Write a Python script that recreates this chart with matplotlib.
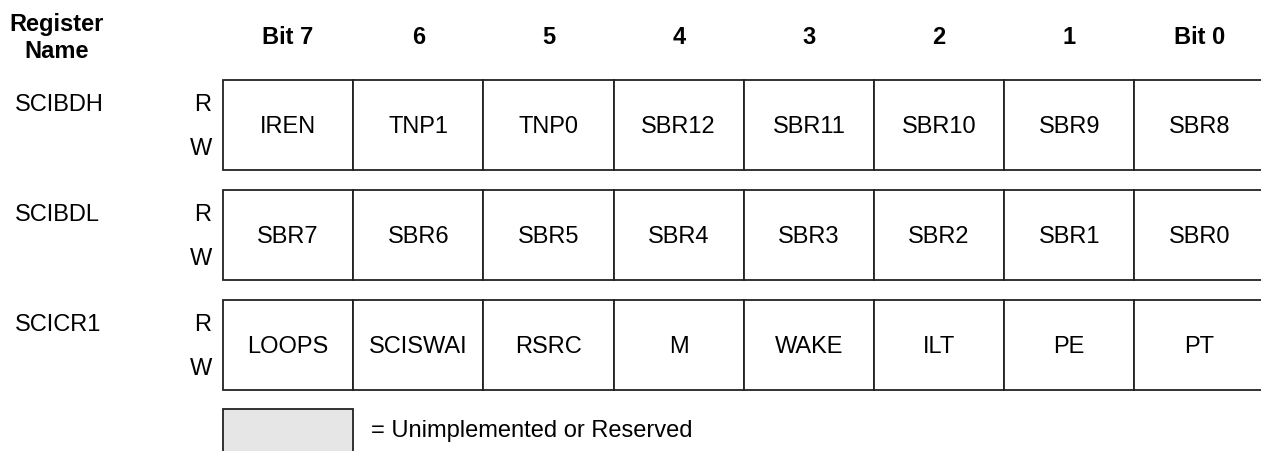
import matplotlib
matplotlib.use("Agg")
import matplotlib.pyplot as plt
from matplotlib.patches import Rectangle

plt.rcParams['font.family'] = ['Liberation Sans', 'DejaVu Sans']

registers = ["SCIBDH", "SCIBDL", "SCICR1"]
bit_headers = ["Bit 7", "6", "5", "4", "3", "2", "1", "Bit 0"]
bits = [
    ["IREN", "TNP1", "TNP0", "SBR12", "SBR11", "SBR10", "SBR9", "SBR8"],
    ["SBR7", "SBR6", "SBR5", "SBR4", "SBR3", "SBR2", "SBR1", "SBR0"],
    ["LOOPS", "SCISWAI", "RSRC", "M", "WAKE", "ILT", "PE", "PT"],
]
legend_text = "= Unimplemented or Reserved"

W, H = 1261, 451
fig = plt.figure(figsize=(W / 100, H / 100), dpi=100)
ax = fig.add_axes([0, 0, 1, 1])
ax.set_xlim(0, W)
ax.set_ylim(H, 0)
ax.axis('off')

x0 = 223
cw = 130.2
row_tops = [80, 190, 300]
rh = 90
fs = 17
lw = 1.3

ax.text(57, 24, "Register", ha='center', va='center', fontsize=fs, fontweight='bold')
ax.text(57, 52, "Name", ha='center', va='center', fontsize=fs, fontweight='bold')
for i, h in enumerate(bit_headers):
    ax.text(x0 + cw * (i + 0.5), 38, h, ha='center', va='center', fontsize=fs, fontweight='bold')

for r, (name, row) in enumerate(zip(registers, bits)):
    top = row_tops[r]
    ax.text(15, top + 25, name, ha='left', va='center', fontsize=fs)
    ax.text(211, top + 25, "R", ha='right', va='center', fontsize=fs)
    ax.text(212, top + 69, "W", ha='right', va='center', fontsize=fs)
    for c, lab in enumerate(row):
        ax.add_patch(Rectangle((x0 + cw * c, top), cw, rh, facecolor='white',
                               edgecolor='#222222', lw=lw))
        ax.text(x0 + cw * (c + 0.5), top + rh / 2 + 2, lab, ha='center', va='center', fontsize=fs)

ax.add_patch(Rectangle((x0, 409), cw, 60, facecolor='#e6e6e6', edgecolor='#222222', lw=lw))
ax.text(x0 + cw + 18, 431, legend_text, ha='left', va='center', fontsize=fs)

fig.savefig("out.png", dpi=100)
